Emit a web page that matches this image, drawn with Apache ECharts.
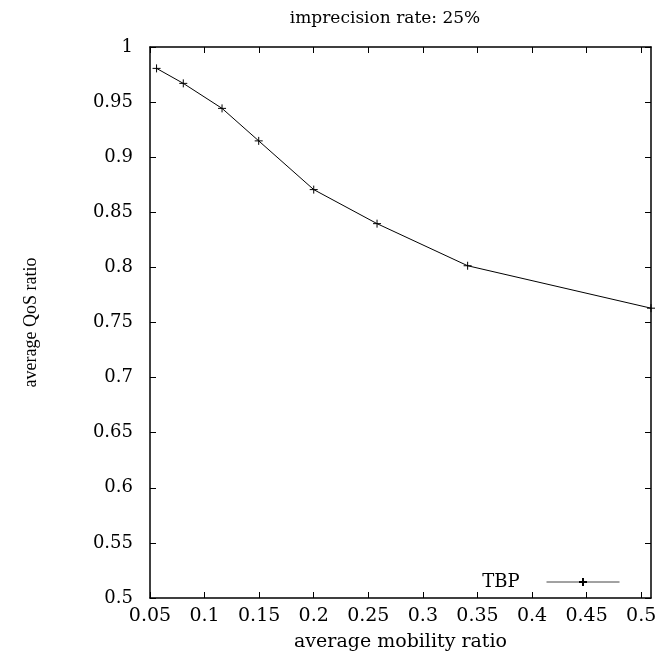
<!DOCTYPE html>
<html>
<head>
<meta charset="utf-8">
<script src="https://cdn.jsdelivr.net/npm/echarts@6/dist/echarts.min.js"></script>
<style>html,body{margin:0;padding:0;background:#fff;}#chart{width:658px;height:654px;}</style>
</head>
<body>
<div id="chart"></div>
<script>
// ---- data ----
const mobility = [0.056, 0.0805, 0.116, 0.1496, 0.200, 0.258, 0.341, 0.509];
const qosTBP   = [0.9806, 0.967, 0.9443, 0.9148, 0.8706, 0.8397, 0.8015, 0.763];
const xTicks = [0.05, 0.1, 0.15, 0.2, 0.25, 0.3, 0.35, 0.4, 0.45, 0.5];
const yTicks = [0.5, 0.55, 0.6, 0.65, 0.7, 0.75, 0.8, 0.85, 0.9, 0.95, 1];
const xMin = 0.05, xMax = 0.509, yMin = 0.5, yMax = 1;
const titleText = 'imprecision rate: 25%';
const xName = 'average mobility ratio';
const yName = 'average QoS ratio';
const seriesName = 'TBP';

const serif = 'DejaVu Serif';
const chart = echarts.init(document.getElementById('chart'), null, {renderer: 'canvas'});
const fmt = v => String(+(+v).toFixed(2));
const baseX = {
  type: 'value', min: xMin, max: xMax,
  axisLine: {show: true, onZero: false, lineStyle: {color: '#000', width: 1.5}},
  axisTick: {show: true, inside: true, length: 6, customValues: xTicks, lineStyle: {color: '#000'}},
  splitLine: {show: false}
};
const baseY = {
  type: 'value', min: yMin, max: yMax,
  axisLine: {show: true, onZero: false, lineStyle: {color: '#000', width: 1.5}},
  axisTick: {show: true, inside: true, length: 6, customValues: yTicks, lineStyle: {color: '#000'}},
  splitLine: {show: false}
};
chart.setOption({
  animation: false,
  backgroundColor: '#fff',
  title: {
    text: titleText, left: 380, top: 5, textAlign: 'center',
    textStyle: {fontFamily: serif, fontWeight: 'normal', fontSize: 17, color: '#000'}
  },
  grid: {left: 150, top: 47, right: 7, bottom: 56, containLabel: false, outerBoundsMode: 'none'},
  legend: {
    right: 38, bottom: 63, align: 'right', itemWidth: 73, itemHeight: 10, itemGap: 12, padding: 0,
    lineStyle: {width: 1, color: '#444'},
    textStyle: {fontFamily: serif, fontSize: 18, color: '#000', padding: [0, 22, 0, 0]},
    data: [seriesName]
  },
  xAxis: [
    Object.assign({}, baseX, {
      position: 'bottom',
      name: xName, nameLocation: 'middle', nameGap: 35,
      nameTextStyle: {fontFamily: serif, fontSize: 19, color: '#000'},
      axisLabel: {show: true, customValues: xTicks, formatter: fmt, margin: 9,
        fontFamily: serif, fontSize: 19, color: '#000'}
    }),
    Object.assign({}, baseX, {position: 'top', axisLabel: {show: false}})
  ],
  yAxis: [
    Object.assign({}, baseY, {
      position: 'left',
      name: yName, nameLocation: 'middle', nameGap: 110, nameRotate: 90,
      nameTextStyle: {fontFamily: 'Liberation Serif', fontSize: 18, color: '#000'},
      axisLabel: {show: true, customValues: yTicks, formatter: fmt, margin: 17,
        fontFamily: serif, fontSize: 18, color: '#000'}
    }),
    Object.assign({}, baseY, {position: 'right', axisLabel: {show: false}})
  ],
  series: [{
    name: seriesName, type: 'line',
    data: mobility.map((x, i) => [x, qosTBP[i]]),
    symbol: 'path://M0,5L10,5M5,0L5,10', symbolSize: 8,
    lineStyle: {color: '#000', width: 1},
    itemStyle: {color: '#000', borderColor: '#000', borderWidth: 1},
    clip: false
  }]
});
</script>
</body>
</html>
